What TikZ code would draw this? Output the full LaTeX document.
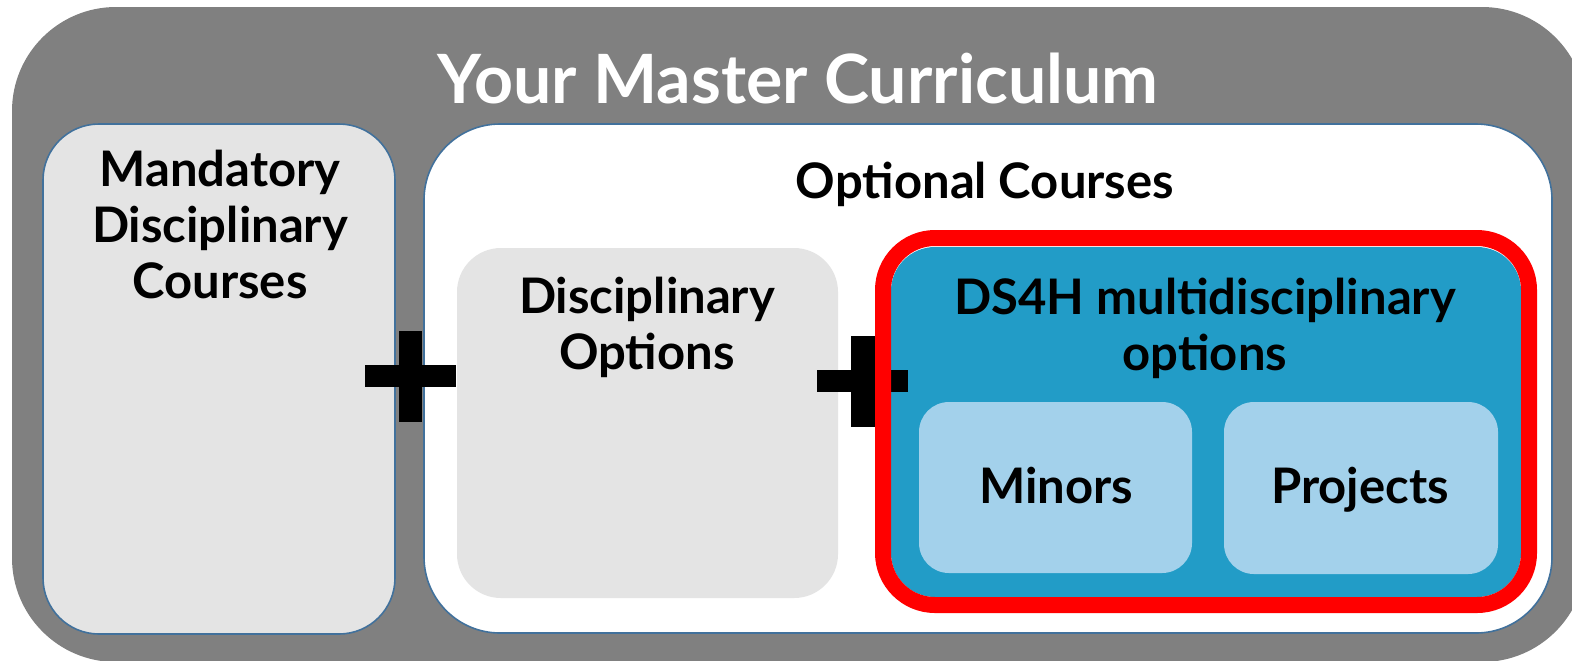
\documentclass[tikz,border=0pt]{standalone}
\usepackage{fontspec}
\setmainfont{Lato}
\definecolor{framegray}{HTML}{808080}
\definecolor{boxgray}{HTML}{E4E4E4}
\definecolor{edgeblue}{HTML}{41719C}
\definecolor{dsblue}{HTML}{229CC7}
\definecolor{subblue}{HTML}{A3D1EB}
\tikzset{
  coursebox/.style={fill=boxgray, draw=edgeblue, line width=0.8pt},
  plusbar/.style={fill=black},
  heading/.style={font=\bfseries\fontsize{34}{38}\selectfont, text=white, anchor=base},
  boxlabel/.style={font=\bfseries\fontsize{24.5}{28}\selectfont, align=center, anchor=base}
}

\begin{document}
\begin{tikzpicture}[x=0.5pt,y=-0.5pt]
	%%%%% START %%%%%
	\useasboundingbox (0,0) rectangle (1572,660);
	\clip (0,0) rectangle (1572,660);
	
	% outer frame
	\fill[framegray, rounded corners=52pt] (12,7) rectangle (1586,662);
	\node[heading] (title) at (798,103) {Your Master Curriculum};
	
	% mandatory part
	\draw[coursebox, rounded corners=28pt] (43,124) rectangle (395,634);
	\node[boxlabel] (mandatory) at (220,298) {Mandatory\\Disciplinary\\Courses};
	
	% optional part
	\draw[coursebox, fill=white, rounded corners=38pt] (424,124) rectangle (1552,633);
	\node[boxlabel] (optional) at (985,198) {Optional Courses};
	
	\fill[boxgray, rounded corners=22pt] (457,248) rectangle (838,598);
	\node[boxlabel] (discopt) at (647,369) {Disciplinary\\Options};
	
	\fill[dsblue, rounded corners=22pt] (891,247) rectangle (1521,597);
	\node[boxlabel] (ds4h) at (1205,370) {DS4H multidisciplinary\\options};
	
	\fill[subblue, rounded corners=15pt] (919,402) rectangle (1192,573);
	\node[boxlabel] (minors) at (1056,503) {Minors};
	\fill[subblue, rounded corners=15pt] (1224,402) rectangle (1498,574);
	\node[boxlabel] (projects) at (1360,503) {Projects};
	
	% plus signs
	\fill[plusbar] (365,365) rectangle (456,387);
	\fill[plusbar] (399,331) rectangle (422,422);
	\fill[plusbar] (817,370) rectangle (908,392);
	\fill[plusbar] (851,336) rectangle (875,427);
	
	% red highlight
	\draw[red, line width=8pt, rounded corners=26pt] (883,238) rectangle (1529,605);
	%%%%% END %%%%%
\end{tikzpicture}
\end{document}
